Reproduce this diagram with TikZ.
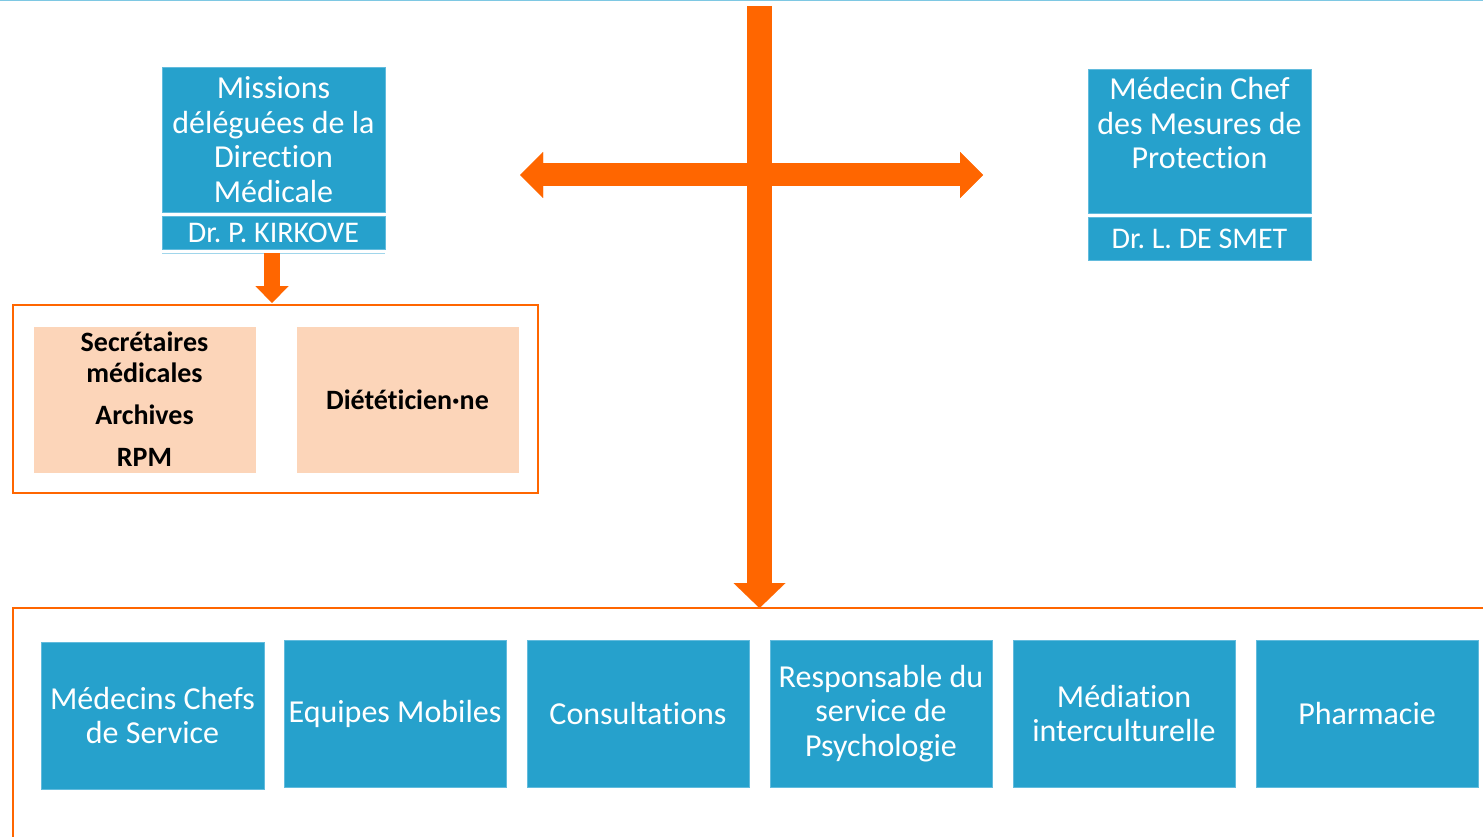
\documentclass[tikz,border=0pt]{standalone}
\usepackage{fontspec}
\setmainfont{Carlito}[RawFeature={-liga,-clig,-dlig,-calt,-rlig}]
\usetikzlibrary{arrows.meta}
\definecolor{bluebox}{HTML}{26A1CC}
\definecolor{blueedge}{HTML}{62BBDD}
\definecolor{orng}{HTML}{FF6600}
\definecolor{peach}{HTML}{FCD5B9}
\definecolor{topline}{HTML}{7EC8E3}
\begin{document}
\begin{tikzpicture}[x=1pt,y=-1pt,
  bbox/.style={fill=bluebox,draw=blueedge,line width=0.8pt,text=white,inner sep=0pt,align=center,
    font=\fontsize{32}{34.5}\selectfont},
  pbox/.style={fill=peach,inner sep=0pt,align=center,text=black,
    font=\bfseries\fontsize{28}{31}\selectfont,minimum width=222pt,minimum height=146pt},
  oframe/.style={draw=orng,line width=2pt,inner sep=0pt},
  fat/.style={orng,line width=#1}
]
\useasboundingbox (0,0) rectangle (1483,837);
% top line
\coordinate (tl) at (0,0.75);
\coordinate (tr) at (1483,0.75);
\draw[topline,line width=1.5pt] (tl) -- (tr);

% Missions box
\node[bbox,minimum width=223pt,minimum height=145pt] (miss) at (273.5,139.5)
  {Missions\\déléguées de la\\Direction\\Médicale};
\node[bbox,minimum width=223pt,minimum height=33pt,font=\fontsize{30}{32}\selectfont] (missdr) at (273.5,232.5) {Dr.~P. KIRKOVE};
\coordinate (ml1) at (162,253);
\coordinate (ml2) at (385,253);
\draw[blueedge!60,line width=0.8pt] (ml1) -- (ml2);

% Medecin chef box
\node[bbox,minimum width=223pt,minimum height=144pt] (med) at (1199.5,141) {};
\node[text=white,align=center,font=\fontsize{32}{34.5}\selectfont,inner sep=0pt] (medtxt) at (1199.5,123.5)
  {Médecin Chef\\des Mesures de\\Protection};
\node[bbox,minimum width=223pt,minimum height=43pt,font=\fontsize{30}{32}\selectfont] (meddr) at (1199.5,238.5) {Dr.~L. DE SMET};

% first orange frame
\node[oframe,minimum width=525pt,minimum height=188pt] (frameA) at (275.5,399) {};
\node[pbox] (secr) at (144.5,399.5) {Secrétaires\\médicales\\[11pt]Archives\\[11pt]RPM};
\node[pbox] (diet) at (407.5,399.5) {Diététicien·ne};

% small arrow
\coordinate (sa1) at (272,253);
\coordinate (sa2) at (272,303);
\draw[fat=16pt,-{Triangle[length=17pt,width=33pt,line width=0.01pt]}] (sa1) -- (sa2);

% bottom frame
\coordinate (fbl) at (13,840);
\coordinate (ftl) at (13,608);
\coordinate (ftr) at (1490,608);
\coordinate (ftop) at (759.5,608);
\draw[orng,line width=2pt] (fbl) -- (ftl) -- (ftr);

% big vertical arrow
\coordinate (vtop) at (759.5,6);
\draw[fat=25pt,-{Triangle[length=25pt,width=52pt,line width=0.01pt]}] (vtop) -- (ftop);
% horizontal double arrow
\coordinate (hl) at (520,175);
\coordinate (hr) at (983,175);
\draw[fat=23pt,{Triangle[length=23pt,width=46pt,line width=0.01pt]}-{Triangle[length=23pt,width=46pt,line width=0.01pt]}] (hl) -- (hr);

% bottom boxes
\node[bbox,minimum width=223pt,minimum height=147pt] (b1) at (152.5,715.5) {Médecins Chefs\\de Service};
\node[bbox,minimum width=222pt,minimum height=147pt] (b2) at (395,713.5) {Equipes Mobiles};
\node[bbox,minimum width=222pt,minimum height=147pt] (b3) at (638,713.5) {Consultations};
\node[bbox,minimum width=222pt,minimum height=147pt] (b4) at (881,713.5) {Responsable du\\service de\\Psychologie};
\node[bbox,minimum width=222pt,minimum height=147pt] (b5) at (1124,713.5) {Médiation\\interculturelle};
\node[bbox,minimum width=222pt,minimum height=147pt] (b6) at (1367,713.5) {Pharmacie};
\end{tikzpicture}
\end{document}
